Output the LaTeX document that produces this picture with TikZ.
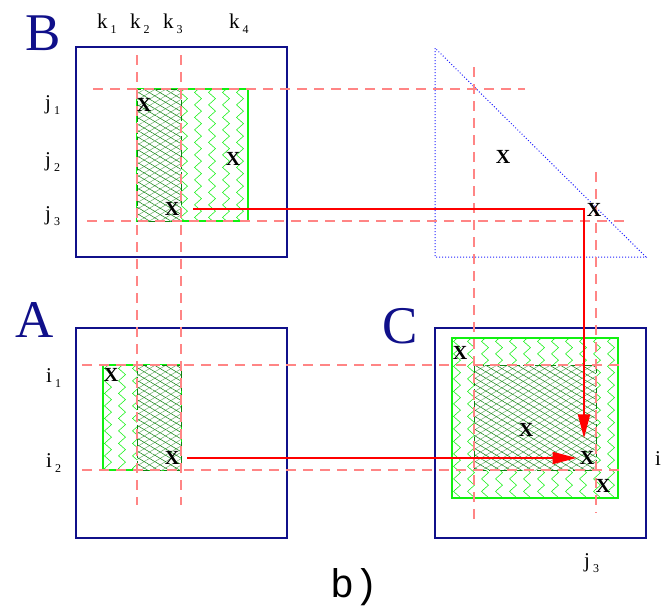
\documentclass[tikz,border=0pt]{standalone}
\usepackage{fontspec}
\setmainfont{Liberation Serif}
\setmonofont{Liberation Mono}
\usepackage{tikz}
\usetikzlibrary{arrows.meta, patterns.meta, decorations.pathmorphing}

\newcommand{\idx}[2]{#1\kern3pt\raisebox{-5pt}{\fontsize{12}{12}\selectfont #2}}

% zona de zigue-zague (verde claro) com contorno
\newcommand{\zigzona}[4]{%
  \begin{scope}
    \clip (#1,#2) rectangle (#3,#4);
    \foreach \n in {0,...,13}
      \draw[zig] ({#1+5+14*\n},#2-6) -- ({#1+5+14*\n},#4+6);
  \end{scope}
  \draw[verde, line width=1.5pt] (#1,#2) rectangle (#3,#4);
}

% zona de malha (verde escuro) com contorno tracejado
\newcommand{\malha}[4]{%
  \fill[white] (#1,#2) rectangle (#3,#4);
  \fill[pattern={Lines[angle=31,distance=5.5pt,line width=.5pt]}, pattern color=verdemeio] (#1,#2) rectangle (#3,#4);
  \fill[pattern={Lines[angle=-31,distance=5.5pt,line width=.5pt]}, pattern color=verdeesc] (#1,#2) rectangle (#3,#4);
  \draw[verdeesc, line width=1pt, dash pattern=on 9pt off 3pt] (#1,#2) rectangle (#3,#4);
}

\begin{document}
\begin{tikzpicture}[x=1pt, y=-1pt,
  caixa/.style={draw=azul, line width=1.5pt},
  grade/.style={draw=salmao, line width=1.5pt, dash pattern=on 10pt off 7pt},
  zig/.style={verde, line width=.55pt, decorate, decoration={zigzag, segment length=12.5pt, amplitude=3.5pt}},
  seta/.style={draw=red, line width=2pt, -{Triangle[length=24pt,width=12pt]}},
  rotulo/.style={anchor=base west, inner sep=0pt, font=\fontsize{21}{21}\selectfont},
  xis/.style={inner sep=0pt, font=\fontsize{20}{20}\selectfont\bfseries},
  letra/.style={anchor=base west, inner sep=0pt, text=azul, font=\fontsize{53}{53}\selectfont}]
% --- BLOCOS B, A, C E TRIANGULO ---
\definecolor{azul}{HTML}{10108A}
\definecolor{salmao}{HTML}{FF8585}
\definecolor{verde}{HTML}{11F011}
\definecolor{verdeesc}{HTML}{0E820E}
\definecolor{verdemeio}{HTML}{6AAE6A}
\definecolor{pontos}{HTML}{2020FF}

\useasboundingbox (0,0) rectangle (668,606);

% LAYER 1: Caixas e triangulo
\draw[caixa] (76,47) rectangle (287,257);
\draw[caixa] (76,328) rectangle (287,538);
\draw[caixa] (435,328) rectangle (646,538);
\draw[pontos, line width=1pt, dash pattern=on 1pt off 2pt] (435,48) -- (435,257) -- (646,257) -- cycle;

% LAYER 2: Zonas verdes
\zigzona{137}{89}{248}{221}
\malha{137}{89}{181}{221}
\zigzona{103}{365}{181}{470}
\malha{137}{365}{181}{470}
\zigzona{452}{338}{618}{498}
\malha{474}{365}{596}{470}

% LAYER 3: Linhas tracejadas
\draw[grade] (137,55) -- (137,505);
\draw[grade] (181,55) -- (181,505);
\draw[grade] (474,67) -- (474,520);
\draw[grade] (596,172) -- (596,513);
\draw[grade] (93,89) -- (525,89);
\draw[grade] (87,221) -- (629,221);
\draw[grade] (82,365) -- (625,365);
\draw[grade] (82,470) -- (625,470);

% LAYER 4: Rotulos
\node[letra] (B) at (25,50) {B};
\node[letra] (A) at (15,337) {A};
\node[letra] (C) at (382,343) {C};
\node[rotulo] (k1) at (97,28) {\idx{k}{1}};
\node[rotulo] (k2) at (130,28) {\idx{k}{2}};
\node[rotulo] (k3) at (163,28) {\idx{k}{3}};
\node[rotulo] (k4) at (229,28) {\idx{k}{4}};
\node[rotulo] (j1) at (45,109) {\idx{j}{1}};
\node[rotulo] (j2) at (45,166) {\idx{j}{2}};
\node[rotulo] (j3) at (45,220) {\idx{j}{3}};
\node[rotulo] (i1) at (46,382) {\idx{i}{1}};
\node[rotulo] (i2) at (46,467) {\idx{i}{2}};
\node[rotulo] (iC) at (655,465) {i};
\node[rotulo] (jC) at (584,567) {\idx{j}{3}};
\node[anchor=base west, inner sep=0pt, font=\ttfamily\fontsize{40}{40}\selectfont] (legenda) at (330,597) {b)};

\node[xis] (xb1) at (144,105) {X};
\node[xis] (xb2) at (233,159) {X};
\node[xis] (xb3) at (172,209) {X};
\node[xis] (xt1) at (503,157) {X};
\node[xis] (xt2) at (594,210) {X};
\node[xis] (xa1) at (111,375) {X};
\node[xis] (xa2) at (172,458) {X};
\node[xis] (xc1) at (460,353) {X};
\node[xis] (xc2) at (526,430) {X};
\node[xis] (xc3) at (587,458) {X};
\node[xis] (xc4) at (603,486) {X};

% LAYER 5: Setas
\draw[seta, shorten <=14pt, shorten >=13pt] (xb3.east) -| ([xshift=-3pt]xc3.north);
\draw[seta, shorten <=8pt, shorten >=3pt] (xa2.east) -- (xc3.west);
\end{tikzpicture}
\end{document}
